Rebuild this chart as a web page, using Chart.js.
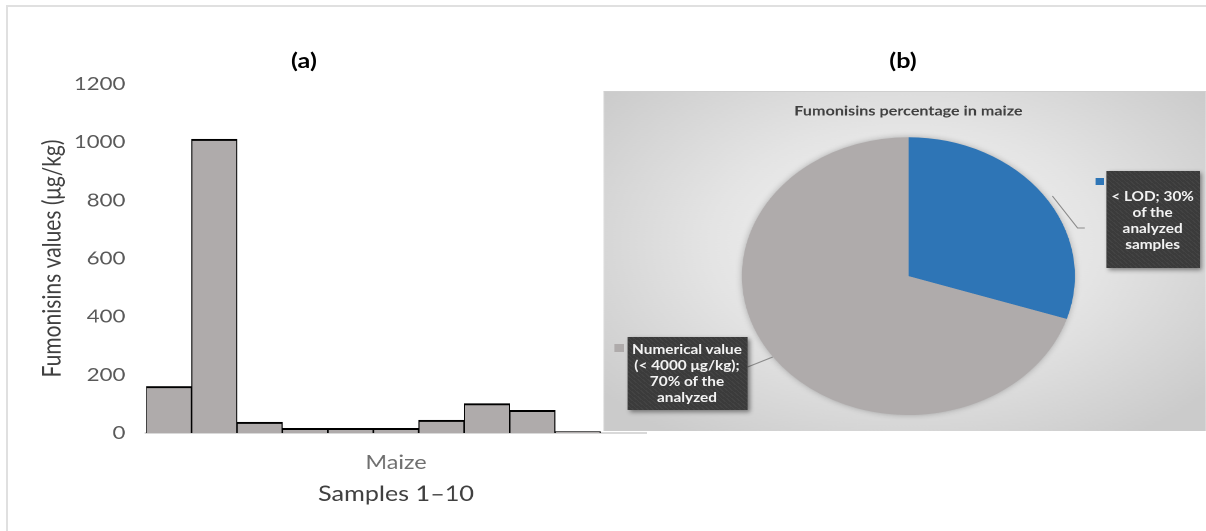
<!DOCTYPE html>
<html><head><meta charset="utf-8">
<script src="https://cdn.jsdelivr.net/npm/chart.js@4.4.1/dist/chart.umd.min.js"></script>
<style>
html,body{margin:0;padding:0;background:#fff;width:1206px;height:531px;overflow:hidden;font-family:Lato,"Open Sans",sans-serif;}
#frame{position:absolute;left:6px;top:5px;width:1300px;height:600px;border:2px solid #e0e0e0;box-sizing:border-box;}
#wrap{position:absolute;left:0;top:0;width:1005px;height:531px;transform:scaleX(1.2);transform-origin:0 0;}
#barBox{position:absolute;left:0;top:0;width:550px;height:531px;}
.panel{position:absolute;top:47px;width:60px;text-align:center;font-weight:bold;font-size:21px;line-height:26px;color:#000;}
#pieBox{position:absolute;left:502.5px;top:91px;width:502.5px;height:340px;overflow:hidden;
  background:radial-gradient(ellipse 65% 70% at 50% 45%, #f6f6f6 0%, #e4e4e4 50%, #cbcbcb 100%);
  box-shadow:inset 0 1px 0 #cfcfcf;}
#pieInner{position:absolute;left:0;top:0;width:502.5px;height:340px;}
.lbl{position:absolute;background-color:#3b3b3b;
  background-image:repeating-linear-gradient(45deg,rgba(255,255,255,0.04) 0 1px,transparent 1px 3px);
  box-shadow:2px 2px 4px rgba(0,0,0,0.45);color:#f2f2f2;font-weight:bold;font-size:12.8px;line-height:16px;
  display:flex;flex-direction:column;justify-content:center;align-items:center;text-align:center;}
.key{position:absolute;width:7px;height:7px;}
svg{position:absolute;left:0;top:0;overflow:visible;}
</style></head>
<body>
<div id="frame"></div>
<div id="wrap">
  <div class="panel" style="left:223.3px">(a)</div>
  <div class="panel" style="left:722.5px">(b)</div>
  <div id="barBox"><canvas id="barCanvas"></canvas></div>
  <div id="pieBox">
    <div id="pieInner"><canvas id="pieCanvas"></canvas></div>
    <svg width="502" height="340"><polyline points="374,105 395,137 401,137" fill="none" stroke="#8c8c8c" stroke-width="1"/>
      <polyline points="120,276 141,266" fill="none" stroke="#8c8c8c" stroke-width="1"/></svg>
    <div class="key" style="left:410px;top:87px;background:#2e75b6"></div>
    <div class="lbl" style="left:419px;top:80px;width:78px;height:97px"><div>&lt; LOD; 30%</div><div>of the</div><div>analyzed</div><div>samples</div></div>
    <div class="key" style="left:9px;top:253px;background:#afabab;width:8px;height:8px"></div>
    <div class="lbl" style="left:20px;top:245.7px;width:100px;height:73px"><div>Numerical value</div><div>(&lt; 4000 μg/kg);</div><div>70% of the</div><div>analyzed</div></div>
  </div>
</div>
<script>
// ----- Data -----
const sampleNumbers = [1, 2, 3, 4, 5, 6, 7, 8, 9, 10];
const fumonisinValues = [160, 1010, 37, 16, 16, 16, 44, 101, 78, 5];
const categoryLabel = 'Maize';
const xAxisTitle = 'Samples 1–10';
const yAxisTitle = 'Fumonisins values (μg/kg)';
const yTickMax = 1200;
const yTickStep = 200;

const pieTitle = 'Fumonisins percentage in maize';
const pieLabels = ['< LOD; 30% of the analyzed samples', 'Numerical value (< 4000 μg/kg); 70% of the analyzed'];
const piePercents = [30, 70];
const pieColors = ['#2e75b6', '#afabab'];

Chart.defaults.font.family = 'Lato, "Open Sans", sans-serif';

new Chart(document.getElementById('barCanvas'), {
  type: 'bar',
  data: {
    datasets: [{
      data: sampleNumbers.map((s, i) => ({x: s, y: fumonisinValues[i]})),
      backgroundColor: '#afabab',
      borderColor: '#000000',
      borderWidth: {top: 2, left: 1, right: 1, bottom: 0},
      barPercentage: 1,
      categoryPercentage: 1
    }]
  },
  options: {
    responsive: true, maintainAspectRatio: false, animation: false, devicePixelRatio: 2,
    layout: {padding: {left: 0, right: 11.7, top: 84, bottom: 0}},
    plugins: {legend: {display: false}, tooltip: {enabled: false}},
    scales: {
      x: {
        type: 'linear', min: sampleNumbers[0] - 0.5, max: sampleNumbers[sampleNumbers.length - 1] + 1.5, offset: false,
        grid: {display: false},
        border: {display: true, color: '#d9d9d9', width: 2},
        afterBuildTicks: (ax) => { ax.ticks = [{value: (ax.min + ax.max) / 2}]; },
        ticks: {callback: () => categoryLabel, color: '#6f6f6f', font: {size: 19.5}, padding: 10, maxRotation: 0, autoSkip: false},
        title: {display: true, text: xAxisTitle, color: '#404040', font: {size: 21}, padding: {top: 0, bottom: 24}},
        afterFit: (ax) => { ax.height = 98; }
      },
      y: {
        min: 0, max: yTickMax,
        ticks: {stepSize: yTickStep, color: '#595959', font: {size: 18.5}, padding: 9.2, callback: (v) => String(v)},
        grid: {display: false},
        border: {display: false},
        title: {display: true, text: yAxisTitle, color: '#404040', font: {size: 21}, padding: {top: 31, bottom: 0}},
        afterFit: (ax) => { ax.width = 121.7; }
      }
    }
  }
});

const pieShadow = {
  id: 'pieShadow',
  beforeDatasetsDraw(chart) {
    const arc = chart.getDatasetMeta(0).data[0];
    if (!arc) return;
    const ctx = chart.ctx;
    ctx.save();
    ctx.shadowColor = 'rgba(0,0,0,0.35)';
    ctx.shadowBlur = 14;
    ctx.fillStyle = '#afabab';
    ctx.beginPath();
    ctx.arc(arc.x, arc.y, arc.outerRadius - 1, 0, Math.PI * 2);
    ctx.fill();
    ctx.restore();
  }
};

new Chart(document.getElementById('pieCanvas'), {
  type: 'pie',
  data: {labels: pieLabels, datasets: [{data: piePercents, backgroundColor: pieColors, borderWidth: 0, hoverOffset: 0, offset: 0}]},
  options: {
    responsive: true, maintainAspectRatio: false, animation: false, devicePixelRatio: 2,
    layout: {padding: {left: 6, right: 0, top: 0, bottom: 16}},
    plugins: {
      legend: {display: false}, tooltip: {enabled: false},
      title: {display: true, text: pieTitle, color: '#404040', font: {size: 13.5, weight: 'bold'}, padding: {top: 12, bottom: 18}}
    }
  },
  plugins: [pieShadow]
});
</script>
</body></html>
